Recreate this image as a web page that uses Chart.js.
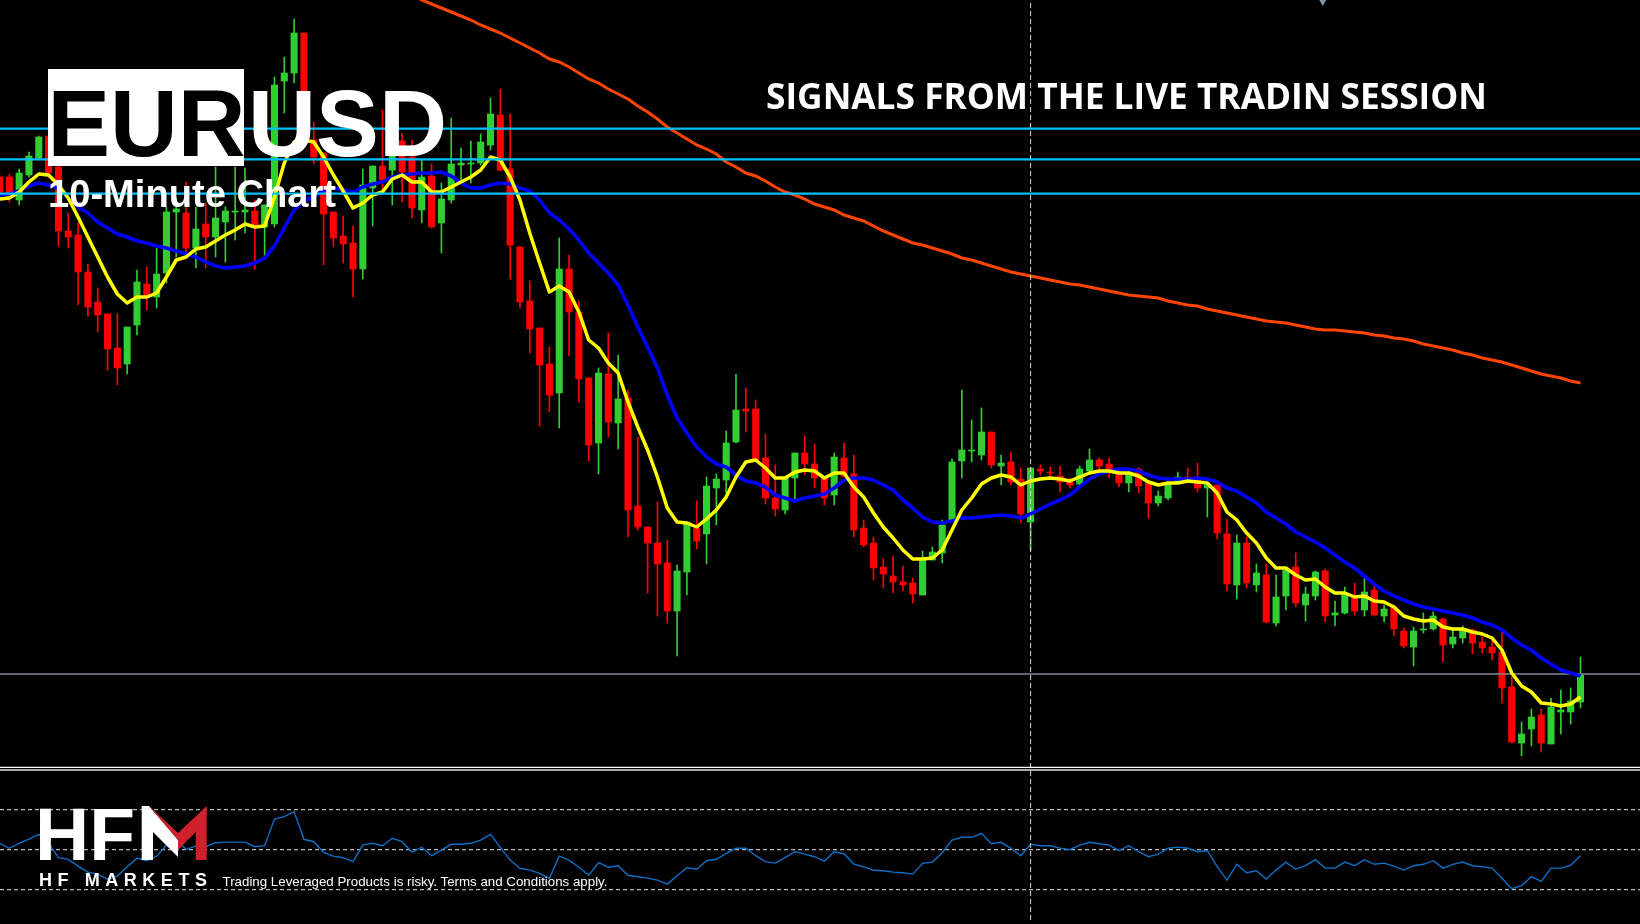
<!DOCTYPE html>
<html><head><meta charset="utf-8">
<style>
html,body{margin:0;padding:0;background:#000;width:1640px;height:924px;overflow:hidden}
#c{position:absolute;left:0;top:0;width:1640px;height:924px}
#o{position:absolute;left:0;top:0}
</style>
<script src="https://cdn.jsdelivr.net/npm/chart.js@4"></script>
</head><body>
<canvas id="c" width="1640" height="924"></canvas>
<svg id="o" width="1640" height="924" xmlns="http://www.w3.org/2000/svg">
  <rect x="48" y="69" width="196" height="97" fill="#fff"/>
  <text x="47.5" y="156" font-family="Liberation Sans" font-weight="700" font-size="94" fill="#000" textLength="198" lengthAdjust="spacingAndGlyphs">EUR</text>
  <text x="248" y="156" font-family="Liberation Sans" font-weight="700" font-size="94" fill="#fff" textLength="199" lengthAdjust="spacingAndGlyphs">USD</text>
  <text x="48" y="207" font-family="Liberation Sans" font-weight="700" font-size="39" fill="#fff" textLength="288" lengthAdjust="spacingAndGlyphs">10-Minute Chart</text>
  <text x="766" y="109" font-family="Open Sans" font-weight="700" font-size="35" fill="#fff" textLength="721" lengthAdjust="spacingAndGlyphs">SIGNALS FROM THE LIVE TRADIN SESSION</text>
  <text x="35" y="860" font-family="Liberation Sans" font-weight="700" font-size="75" fill="#fff">HF</text>
  <polygon points="141.7,806 149,806 178,840 178,857 153,832 153,860 141.7,860" fill="#fff"/>
  <polygon points="149,806 178,833 206.7,806 206.7,860 195.7,860 195.7,832 178,850 178,840" fill="#d0202e"/>
  <text x="39" y="886" font-family="Liberation Sans" font-weight="700" font-size="18" fill="#fff" textLength="168" lengthAdjust="spacing">HF MARKETS</text>
  <text x="222.5" y="886" font-family="Liberation Sans" font-size="13.5" fill="#fff" textLength="385" lengthAdjust="spacingAndGlyphs">Trading Leveraged Products is risky. Terms and Conditions apply.</text>
</svg>
<script>
// Price values are points above the bottom of the main pane.
const opens=[593,593,570,595,612,634,603,539,535,498,468,456,422,406,445,486,473,497,558,557,522,546,533,548,558,558,559,543,546,689,697,737,630,617,558,534,527,501,582,604,600,629,613,560,594,547,570,605,606,607,625,655,
601,523,469,442,406,377,501,458,392,327,396,347,372,264,243,227,207,159,198,242,236,282,290,328,361,361,312,272,260,292,317,306,292,275,312,296,242,227,203,194,188,187,175,210,217,250,309,319,315,338,304,308,291,248,
301,298,294,288,286,299,310,306,298,287,301,287,267,272,287,293,293,282,285,236,185,227,185,195,147,174,203,165,174,199,155,157,173,160,180,154,163,139,123,140,141,151,126,132,140,128,123,118,83,27,41,55,26,58,58,68];
const highs=[595,596,601,618,634,634,607,557,547,506,482,456,456,443,500,503,522,563,572,588,563,567,603,563,603,602,570,565,693,713,751,737,648,617,558,554,544,601,604,660,630,637,630,610,606,587,652,622,629,636,672,681,
656,523,489,442,423,532,515,469,392,402,437,415,380,333,243,268,230,205,248,269,293,296,339,396,382,370,336,305,293,317,334,326,293,317,327,315,250,233,211,214,204,192,219,223,250,311,380,350,362,338,315,318,302,302,
305,303,304,292,304,321,312,312,298,298,302,288,279,288,298,302,307,287,285,251,235,233,206,206,195,202,217,183,199,201,169,183,187,192,184,165,165,142,143,157,158,152,140,144,141,133,132,140,93,48,61,61,72,80,82,113];
const lows=[573,568,565,593,610,593,524,522,465,454,438,400,385,396,435,460,462,487,513,513,502,502,513,508,530,537,501,513,543,657,687,625,606,505,523,507,473,491,544,580,565,568,552,547,542,517,567,590,587,605,620,599,
491,462,417,344,358,342,414,368,309,296,333,321,233,240,177,154,147,114,175,221,206,245,277,327,338,309,266,254,256,270,295,282,265,265,293,233,223,190,182,177,179,167,175,210,207,250,292,308,310,302,285,285,247,220,
295,293,278,282,285,298,298,292,283,278,277,252,264,270,287,288,278,253,231,179,171,182,178,147,144,160,163,149,170,148,144,156,155,154,154,148,134,122,104,137,140,108,122,127,116,117,110,67,27,14,24,18,26,36,46,62];
const closes=[577,573,597,614,633,597,539,533,498,463,455,421,402,443,488,474,496,558,561,522,541,533,552,559,559,560,545,565,685,697,737,630,613,556,532,526,501,585,604,590,630,598,562,593,543,571,606,607,607,628,656,600,
525,468,441,405,375,501,458,391,325,397,348,371,260,243,227,206,159,199,248,229,284,291,327,360,359,310,272,261,292,317,306,292,272,313,294,240,225,202,196,188,185,176,210,218,245,308,320,320,338,305,307,288,256,302,
299,297,288,285,301,310,304,300,287,297,284,267,274,287,293,288,282,285,237,186,227,187,197,148,173,200,167,176,198,154,157,175,159,178,155,161,141,124,139,141,154,125,133,140,127,122,117,82,28,36,53,27,63,60,69,95];
const yellowMA=[571,572,578,588,596,595,585,572,553,533,513,493,476,467,473,473,477,493,510,513,521,523,529,535,540,546,543,544,573,607,628,630,628,613,595,579,562,567,575,578,591,595,588,588,578,578,583,588,593,600,613,610,593,570,537,507,478,484,478,458,430,422,407,397,368,343,320,293,262,248,247,243,251,260,273,293,308,310,302,292,292,298,300,299,292,297,297,283,273,257,243,232,220,211,211,212,220,240,260,272,286,292,295,293,285,289,291,292,291,289,293,297,299,299,297,297,294,288,285,287,287,289,288,287,277,258,250,237,227,212,202,202,195,190,191,183,177,177,173,174,169,168,163,154,151,149,150,143,141,141,138,136,132,120,97,84,78,67,66,64,66,73];
const blueMA=[575,576,579,584,587,585,582,572,563,557,548,542,536,533,529,527,524,522,519,516,513,508,504,502,503,504,507,512,524,542,560,569,573,580,582,580,578,583,586,588,593,595,596,597,597,598,594,587,582,582,585,587,586,582,579,570,557,550,541,530,517,507,497,485,465,443,423,402,375,352,337,323,313,306,303,295,289,287,283,275,272,269,272,274,276,282,290,292,292,290,285,280,270,262,253,248,247,249,252,252,253,254,255,254,252,256,261,266,270,275,283,291,296,299,301,301,299,295,292,291,291,291,292,291,288,282,279,273,267,258,252,246,238,233,228,222,215,208,202,194,186,179,174,170,166,163,161,159,157,155,152,148,145,140,132,125,120,112,106,100,97,94];
const orangeStart=42;
const orangeMA=[775,770,766,762,758,754,750,745,741,737,732,727,722,717,711,708,703,697,691,687,681,676,671,664,658,651,643,637,631,625,621,616,608,603,597,594,589,583,578,575,571,566,563,560,555,552,549,544,539,535,531,527,525,522,519,516,512,510,507,504,501,498,496,494,492,490,488,486,485,483,481,479,477,475,474,473,472,469,467,465,464,461,459,457,455,453,451,449,448,447,445,443,441,440,440,439,438,437,435,434,432,431,429,426,424,422,420,417,415,412,410,408,405,402,399,396,394,392,389,387];
const rsi=[53.2,50.7,53.2,55.3,57.7,53.2,46,45.2,41.8,38.8,37.8,35.2,36.8,41.5,45.8,44.5,46.8,52.3,54.8,50.2,51.8,51.5,53.5,53.8,53.8,53.8,51.5,52,65.3,66.5,69,55.2,54,48.7,46.8,46,44,52.3,53.2,52,55.7,54,48.8,51.2,47,49.8,52.7,52.7,53.2,54.8,57.7,51.2,44.8,40.7,
39.8,38.2,35.7,46.8,44.8,41.2,37.3,43.5,41.2,42,37.2,36.5,35.8,34.8,32.8,37,41,40.2,44.5,45.2,48.2,50.7,50.7,47,44,43.3,46,49,47.8,46.5,44.3,49,48,42.8,41.5,39.7,39.5,38.8,38.5,37.8,43.2,43.8,48.5,54.8,56.2,56.2,58.2,53,53.7,50.7,47,52.7,
52,52,50.8,50,52.3,53.7,53,52.3,49.5,52,49,46.5,47.8,50.7,51.3,50.7,49,49.5,41.5,34.8,42.7,38.5,39.5,35.3,39.8,43.8,40.2,42,45,40.8,40.8,43.8,42,45,42.7,43.3,41.8,39.8,42,42.7,44.5,40.8,42.7,43.8,42,41.5,40.8,35.7,30.5,32,36.5,34.2,40.8,40.8,42.2,47];
const supportLevels=[641.3,610.7,576.3];
const lastPrice=96;
const rsiLevels=[70,50,30];
const paneRules=[2.7,0];
const cursorIndex=105;
const markerIndex=134.75;
const xMin=0.05, xMax=167.06, priceMin=-154, priceMax=770, rsiMin=12.85, rsiMax=474.85;
const UP='#32cd32', DOWN='#ff0000';

const candleColors=closes.map((c,i)=>c>=opens[i]?UP:DOWN);
const hLine=(v,yAxisID,color,width,dash,order)=>({type:'line',xAxisID:'x',yAxisID,order,
  data:[{x:xMin,y:v},{x:xMax,y:v}],borderColor:color,borderWidth:width,borderDash:dash||[],pointRadius:0,tension:0});
const datasets=[
  {type:'bar',order:20,grouped:false,barThickness:1,xAxisID:'x',yAxisID:'y',
   data:highs.map((h,i)=>({x:i,y:[lows[i],h]})),backgroundColor:candleColors,borderWidth:0},
  {type:'bar',order:19,grouped:false,barThickness:6.4,xAxisID:'x',yAxisID:'y',
   data:opens.map((o,i)=>({x:i,y:[o,closes[i]]})),backgroundColor:candleColors,borderWidth:0},
  {type:'line',order:8,xAxisID:'x',yAxisID:'y',data:orangeMA.map((v,i)=>({x:i+orangeStart,y:v})),borderColor:'#ff4500',borderWidth:3,pointRadius:0,tension:0},
  {type:'line',order:7,xAxisID:'x',yAxisID:'y',data:blueMA.map((v,i)=>({x:i,y:v})),borderColor:'#0000ff',borderWidth:3.6,pointRadius:0,tension:0,borderJoinStyle:'round'},
  {type:'line',order:6,xAxisID:'x',yAxisID:'y',data:yellowMA.map((v,i)=>({x:i,y:v})),borderColor:'#ffff00',borderWidth:3.5,pointRadius:0,tension:0,borderJoinStyle:'round'},
  {type:'line',order:9,xAxisID:'x',yAxisID:'yRsi',data:rsi.map((v,i)=>({x:i,y:v})),borderColor:'#0f6fc6',borderWidth:1.4,pointRadius:0,tension:0},
  {type:'line',order:5,xAxisID:'x',yAxisID:'y',data:[{x:cursorIndex,y:767},{x:cursorIndex,y:-150}],borderColor:'#d8d8d8',borderWidth:1,borderDash:[5,3],pointRadius:0},
  {type:'line',order:4,xAxisID:'x',yAxisID:'y',data:[{x:markerIndex,y:769}],showLine:false,pointStyle:'triangle',rotation:180,pointRadius:5,pointBackgroundColor:'#8494a8',pointBorderWidth:0},
  ...supportLevels.map(v=>hLine(v,'y','#00bfff',2.2,null,3)),
  hLine(lastPrice,'y','#828892',1.4,null,10),
  hLine(paneRules[0],'y','#ffffff',1.3,null,2),
  hLine(paneRules[1],'y','#a8a8a8',2.2,null,2),
  ...rsiLevels.map(v=>hLine(v,'yRsi','#b8b8b8',1.3,[4,3],11))
];
new Chart(document.getElementById('c'),{
  data:{datasets},
  options:{responsive:false,animation:false,devicePixelRatio:1,
    layout:{padding:0,autoPadding:false},
    plugins:{legend:{display:false},tooltip:{enabled:false},title:{display:false}},
    scales:{
      x:{type:'linear',display:false,offset:false,min:xMin,max:xMax,grid:{display:false}},
      y:{type:'linear',display:false,min:priceMin,max:priceMax,beginAtZero:false,grid:{display:false}},
      yRsi:{type:'linear',display:false,min:rsiMin,max:rsiMax,grid:{display:false}}
    }
  }
});
</script>
</body></html>
